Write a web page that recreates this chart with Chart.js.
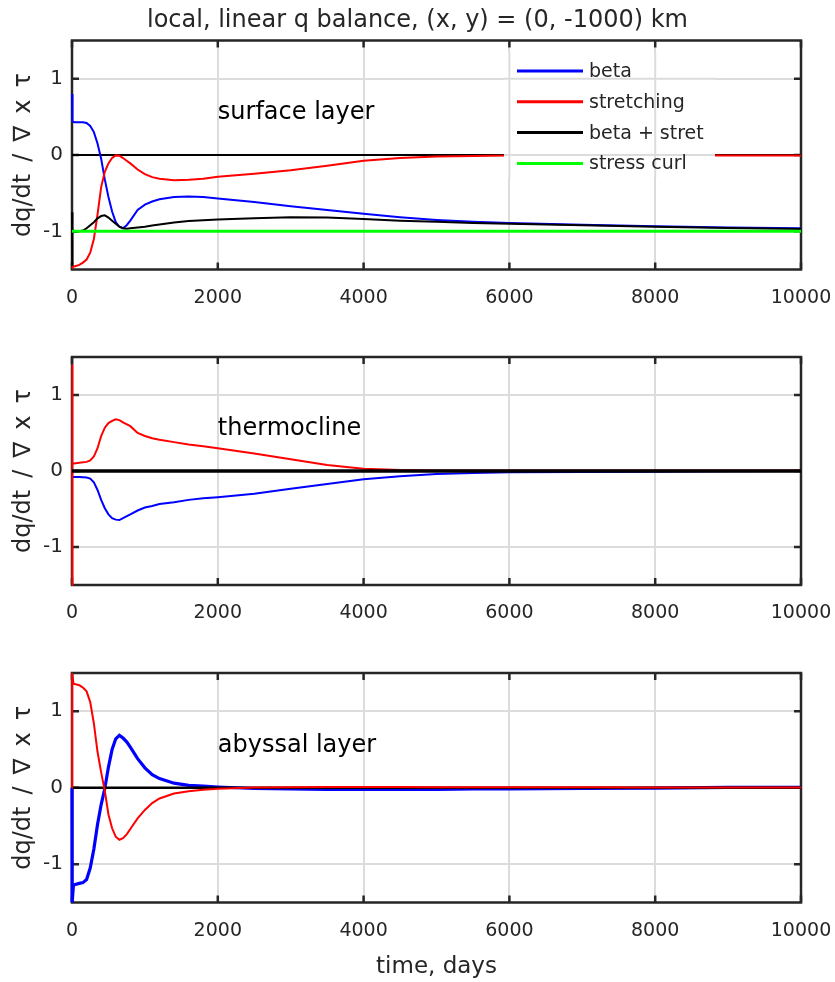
<!DOCTYPE html>
<html>
<head>
<meta charset="utf-8">
<script src="https://cdn.jsdelivr.net/npm/chart.js@4/dist/chart.umd.min.js"></script>
<style>
  html, body { margin: 0; padding: 0; background: #ffffff; }
  #wrap { position: relative; width: 835px; height: 982px; overflow: hidden; }
  #wrap canvas { position: absolute; left: 0; }
</style>
</head>
<body>
<div id="wrap">
  <canvas id="surface" width="835" height="317" style="top:0px"></canvas>
  <canvas id="thermo" width="835" height="316" style="top:317px"></canvas>
  <canvas id="abyss" width="835" height="349" style="top:633px"></canvas>
</div>
<script>
// ---- axis ticks ----
const xTicks = [0, 2000, 4000, 6000, 8000, 10000];
const yTicks = [-1, 0, 1];

// ---- surface layer (days / normalised tendencies) ----
const surfT = [0, 3, 10, 30, 100, 150, 200, 250, 300, 350, 400, 450, 500, 550, 600, 650, 700, 750, 800, 900,
  1000, 1100, 1200, 1400, 1600, 1800, 2000, 2500, 3000, 3500, 4000, 4500, 5000, 5500, 6000, 7000, 8000, 9000, 10000];
const surfBeta = [0.8, 0.6, 0.44, 0.43, 0.43, 0.43, 0.42, 0.38, 0.3, 0.15, -0.05, -0.32, -0.55, -0.74, -0.88, -0.94, -0.96, -0.92, -0.86, -0.72,
  -0.65, -0.61, -0.58, -0.55, -0.545, -0.55, -0.57, -0.615, -0.67, -0.72, -0.77, -0.815, -0.85, -0.875, -0.89, -0.915, -0.935, -0.95, -0.96];
const surfStretch = [-1.48, -1.48, -1.47, -1.46, -1.44, -1.41, -1.37, -1.28, -1.1, -0.78, -0.42, -0.22, -0.11, -0.04, -0.005, -0.01, -0.04, -0.075, -0.11, -0.19,
  -0.25, -0.29, -0.31, -0.33, -0.325, -0.31, -0.285, -0.245, -0.2, -0.14, -0.075, -0.04, -0.02, -0.012, -0.008, -0.006, -0.006, -0.006, -0.006];
const surfSum = [-0.75, -1.45, -0.97, -1.01, -1.0, -0.99, -0.96, -0.92, -0.88, -0.83, -0.8, -0.79, -0.82, -0.86, -0.9, -0.94, -0.96, -0.965, -0.96, -0.95,
  -0.94, -0.925, -0.91, -0.885, -0.865, -0.855, -0.845, -0.83, -0.815, -0.82, -0.84, -0.86, -0.875, -0.89, -0.9, -0.92, -0.94, -0.955, -0.97];
const curlT = [0, 10000];
const curlVal = [-1, -1];

// ---- thermocline ----
const thermT = [0, 1, 3, 6, 10, 30, 100, 200, 250, 300, 350, 400, 450, 500, 550, 600, 650, 700, 800, 900,
  1000, 1100, 1200, 1400, 1600, 1800, 2000, 2500, 3000, 3500, 4000, 4500, 5000, 5500, 6000, 7000, 8000, 8500, 9000, 10000];
const thermStretch = [-1.5, 1.4, -1.2, 0.45, 0.1, 0.1, 0.11, 0.12, 0.14, 0.19, 0.3, 0.46, 0.57, 0.63, 0.66, 0.68, 0.67, 0.64, 0.59, 0.5,
  0.46, 0.43, 0.41, 0.38, 0.35, 0.325, 0.3, 0.23, 0.155, 0.08, 0.03, 0.012, 0.008, 0.006, 0.005, 0.005, 0.006, 0.007, 0.008, 0.008];
const thermBeta = [-0.08, -0.08, -0.08, -0.08, -0.08, -0.08, -0.08, -0.085, -0.1, -0.15, -0.25, -0.38, -0.49, -0.57, -0.62, -0.64, -0.645, -0.62, -0.57, -0.52,
  -0.48, -0.46, -0.435, -0.41, -0.38, -0.36, -0.345, -0.3, -0.235, -0.17, -0.11, -0.07, -0.04, -0.025, -0.018, -0.012, -0.01, -0.006, -0.002, 0];

// ---- abyssal layer ----
const abyssT = [0, 2, 20, 100, 150, 200, 250, 300, 350, 400, 450, 500, 550, 600, 650, 700, 750, 800, 900,
  1000, 1100, 1200, 1400, 1600, 1800, 2000, 2500, 3000, 3500, 4000, 4500, 5000, 5500, 6000, 7000, 8000, 9000, 10000];
const abyssStretch = [0, 1.5, 1.36, 1.34, 1.31, 1.26, 1.12, 0.84, 0.47, 0.2, -0.04, -0.35, -0.53, -0.64, -0.68, -0.66, -0.61, -0.54, -0.4,
  -0.29, -0.2, -0.14, -0.075, -0.045, -0.025, -0.012, 0.003, 0.008, 0.01, 0.01, 0.01, 0.008, 0.006, 0.005, 0.005, 0.004, 0.004, 0.004];
const abyssBeta = [0, -1.5, -1.27, -1.25, -1.24, -1.2, -1.05, -0.8, -0.48, -0.22, -0.01, 0.27, 0.5, 0.64, 0.685, 0.65, 0.6, 0.53, 0.38,
  0.26, 0.17, 0.12, 0.06, 0.03, 0.02, 0.01, -0.01, -0.015, -0.02, -0.02, -0.02, -0.02, -0.015, -0.015, -0.01, -0.005, 0.005, 0.005];

const zeroT = [0, 10000];
const zeroVal = [0, 0];

const FONT = "'DejaVu Sans', 'Liberation Sans', sans-serif";
const INK = '#262626';
const GRID = '#dcdcdc';
const YLABEL = 'dq/dt\u2002/\u2002\u2207\u2002x\u2002\u03c4';

Chart.defaults.font.family = FONT;
Chart.defaults.color = INK;

const pts = (t, v) => t.map((x, i) => ({ x: x, y: v[i] }));

// axes box with inward tick marks, drawn under the curves
const boxPlugin = {
  id: 'axesBox',
  beforeDatasetsDraw(chart) {
    const { ctx, chartArea: a, scales: { x, y } } = chart;
    ctx.save();
    ctx.strokeStyle = INK;
    ctx.lineWidth = 2.5;
    ctx.strokeRect(a.left, a.top, a.right - a.left, a.bottom - a.top);
    ctx.beginPath();
    xTicks.forEach(v => {
      const px = x.getPixelForValue(v);
      ctx.moveTo(px, a.bottom); ctx.lineTo(px, a.bottom - 7);
      ctx.moveTo(px, a.top); ctx.lineTo(px, a.top + 7);
    });
    yTicks.forEach(v => {
      const py = y.getPixelForValue(v);
      ctx.moveTo(a.left, py); ctx.lineTo(a.left + 7, py);
      ctx.moveTo(a.right, py); ctx.lineTo(a.right - 7, py);
    });
    ctx.stroke();
    ctx.restore();
  }
};

// figure title, centred on the full figure width
const figTitle = {
  id: 'figTitle',
  afterDraw(chart, args, opts) {
    if (!opts || !opts.text) return;
    const ctx = chart.ctx;
    ctx.save();
    ctx.font = '24px ' + FONT;
    ctx.fillStyle = INK;
    ctx.textAlign = 'center';
    ctx.textBaseline = 'middle';
    ctx.fillText(opts.text, chart.width / 2, 21);
    ctx.restore();
  }
};

// layer name written inside the axes at data coordinates
const layerLabel = {
  id: 'layerLabel',
  afterDatasetsDraw(chart, args, opts) {
    if (!opts || !opts.text) return;
    const { ctx, scales: { x, y } } = chart;
    ctx.save();
    ctx.font = '24px ' + FONT;
    ctx.fillStyle = '#000000';
    ctx.textAlign = 'left';
    ctx.textBaseline = 'middle';
    ctx.fillText(opts.text, x.getPixelForValue(opts.x), y.getPixelForValue(opts.y));
    ctx.restore();
  }
};

// legend box placed inside the axes (upper right)
const innerLegend = {
  id: 'innerLegend',
  afterDatasetsDraw(chart, args, opts) {
    if (!opts || !opts.show) return;
    const { ctx, scales: { x, y } } = chart;
    const x0 = 504, x1 = 715, y0 = 52, y1 = 178;
    ctx.save();
    ctx.fillStyle = '#ffffff';
    ctx.fillRect(x0, y0, x1 - x0, y1 - y0);
    // grid shows through the legend
    ctx.beginPath();
    ctx.rect(x0, y0, x1 - x0, y1 - y0);
    ctx.clip();
    ctx.strokeStyle = GRID;
    ctx.lineWidth = 2;
    ctx.beginPath();
    xTicks.forEach(v => { const px = x.getPixelForValue(v); ctx.moveTo(px, y0); ctx.lineTo(px, y1); });
    yTicks.forEach(v => { const py = y.getPixelForValue(v); ctx.moveTo(x0, py); ctx.lineTo(x1, py); });
    ctx.stroke();
    ctx.restore();

    ctx.save();
    const items = chart.data.datasets.filter(d => d.label);
    ctx.font = '19px ' + FONT;
    ctx.textAlign = 'left';
    ctx.textBaseline = 'middle';
    items.forEach((d, i) => {
      const yy = 71 + i * 30.8;
      ctx.strokeStyle = d.borderColor;
      ctx.lineWidth = 3;
      ctx.beginPath();
      ctx.moveTo(517, yy); ctx.lineTo(583, yy);
      ctx.stroke();
      ctx.fillStyle = INK;
      ctx.fillText(d.label, 589, yy + 1);
    });
    ctx.restore();
  }
};

function line(label, t, v, color, width, order) {
  return {
    label: label,
    data: pts(t, v),
    borderColor: color,
    backgroundColor: color,
    borderWidth: width,
    pointRadius: 0,
    tension: 0,
    fill: false,
    clip: false,
    order: order
  };
}

function makeChart(id, cfg) {
  const canvas = document.getElementById(id);
  const H = canvas.height;
  return new Chart(canvas, {
    type: 'line',
    data: { datasets: cfg.datasets },
    options: {
      responsive: false,
      animation: false,
      events: [],
      layout: { padding: { top: cfg.padTop, right: 34, bottom: 0, left: 0 } },
      scales: {
        x: {
          type: 'linear',
          min: 0, max: 10000,
          afterBuildTicks: s => { s.ticks = xTicks.map(v => ({ value: v })); },
          afterFit: s => { s.height = H - cfg.areaBottom; s.paddingLeft = 0; s.paddingRight = 0; },
          ticks: { font: { size: 19 }, color: INK, padding: 17, maxRotation: 0, callback: v => String(v) },
          grid: { color: GRID, lineWidth: 2, drawTicks: false },
          border: { display: false },
          title: cfg.xTitle
            ? { display: true, text: cfg.xTitle, font: { size: 23 }, color: INK, padding: { top: 0, bottom: 1 } }
            : { display: false }
        },
        y: {
          type: 'linear',
          min: -1.5, max: 1.5,
          afterBuildTicks: s => { s.ticks = yTicks.map(v => ({ value: v })); },
          afterFit: s => { s.width = 72; s.paddingTop = 0; s.paddingBottom = 0; },
          ticks: { font: { size: 20 }, color: INK, padding: 9, callback: v => String(v) },
          grid: { color: GRID, lineWidth: 2, drawTicks: false },
          border: { display: false },
          title: { display: true, text: YLABEL, font: { size: 24 }, color: INK, padding: { top: 9, bottom: 0 } }
        }
      },
      plugins: {
        legend: { display: false },
        tooltip: { enabled: false },
        title: { display: false },
        figTitle: { text: cfg.title || '' },
        layerLabel: { text: cfg.label, x: 2000, y: 0.55 },
        innerLegend: { show: !!cfg.legend }
      }
    },
    plugins: [boxPlugin, layerLabel, innerLegend, figTitle]
  });
}

makeChart('surface', {
  title: 'local, linear q balance, (x, y) = (0, -1000) km',
  padTop: 40.5,
  areaBottom: 269.5,
  label: 'surface layer',
  legend: true,
  datasets: [
    line('beta', surfT, surfBeta, '#0000ff', 2, 3),
    line('stretching', surfT, surfStretch, '#ff0000', 2, 2),
    line('beta + stret', surfT, surfSum, '#000000', 2, 1),
    line('stress curl', curlT, curlVal, '#00ff00', 3, 0),
    line('', zeroT, zeroVal, '#000000', 2.2, 4)
  ]
});

makeChart('thermo', {
  padTop: 40,
  areaBottom: 268,
  label: 'thermocline',
  datasets: [
    line('beta', thermT, thermBeta, '#0000ff', 2, 2),
    line('stretching', thermT, thermStretch, '#ff0000', 2, 1),
    line('', zeroT, zeroVal, '#000000', 3.6, 0)
  ]
});

makeChart('abyss', {
  padTop: 40,
  areaBottom: 269.5,
  label: 'abyssal layer',
  xTitle: 'time, days',
  datasets: [
    line('beta', abyssT, abyssBeta, '#0000ff', 3.2, 2),
    line('stretching', abyssT, abyssStretch, '#ff0000', 2, 0),
    line('', zeroT, zeroVal, '#000000', 2.4, 1)
  ]
});
</script>
</body>
</html>
